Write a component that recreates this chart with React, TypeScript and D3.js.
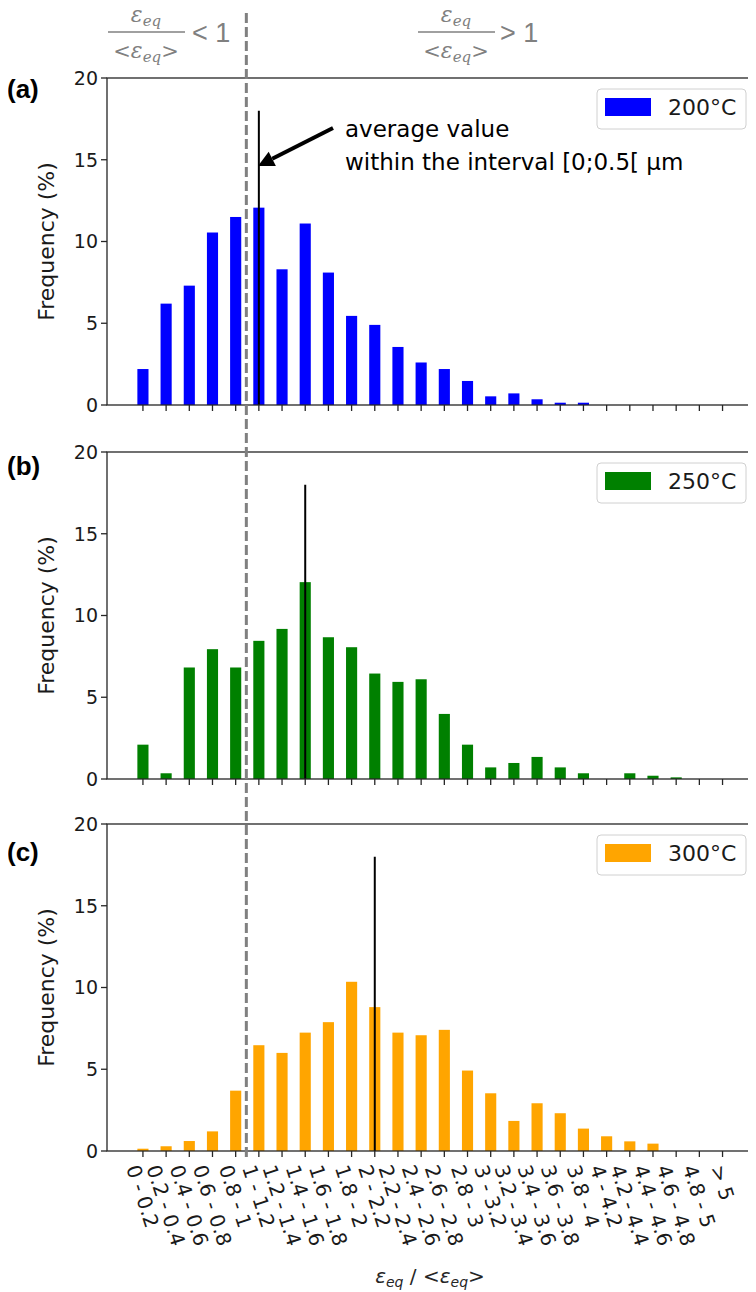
import React from 'react';
import * as d3 from 'd3';

const categories = [
  '0 - 0.2', '0.2 - 0.4', '0.4 - 0.6', '0.6 - 0.8', '0.8 - 1',
  '1 - 1.2', '1.2 - 1.4', '1.4 - 1.6', '1.6 - 1.8', '1.8 - 2',
  '2 - 2.2', '2.2 - 2.4', '2.4 - 2.6', '2.6 - 2.8', '2.8 - 3',
  '3 - 3.2', '3.2 - 3.4', '3.4 - 3.6', '3.6 - 3.8', '3.8 - 4',
  '4 - 4.2', '4.2 - 4.4', '4.4 - 4.6', '4.6 - 4.8', '4.8 - 5', '> 5',
];
const freq200 = [2.2, 6.2, 7.3, 10.55, 11.5, 12.07, 8.3, 11.1, 8.1, 5.45, 4.9, 3.55, 2.6, 2.2, 1.47, 0.53, 0.71, 0.35, 0.14, 0.14, 0, 0, 0, 0, 0, 0];
const freq250 = [2.1, 0.35, 6.82, 7.94, 6.82, 8.45, 9.18, 12.04, 8.67, 8.06, 6.45, 5.94, 6.1, 3.98, 2.1, 0.71, 0.98, 1.35, 0.71, 0.35, 0, 0.35, 0.2, 0.1, 0, 0];
const freq300 = [0.14, 0.29, 0.61, 1.2, 3.69, 6.47, 6.0, 7.24, 7.88, 10.35, 8.8, 7.24, 7.08, 7.41, 4.92, 3.53, 1.84, 2.92, 2.31, 1.37, 0.9, 0.59, 0.45, 0, 0, 0];
const seriesLabels = ['200°C', '250°C', '300°C'];
const seriesColors = ['#0000ff', '#008000', '#ffa500'];
const panelLetters = ['(a)', '(b)', '(c)'];
const averageIndex = [5, 7, 10];
const averageHeight = 18;
const thresholdIndex = 4.46;
const yTicks = [0, 5, 10, 15, 20];

const W = 756;
const H = 1292;
const plotLeft = 107;
const plotRight = 755;
const panelTops = [78, 452, 824];
const panelH = 327;

const SANS = 'DejaVu Sans, sans-serif';
const SERIF = 'DejaVu Serif, serif';

const xTickFont = 20;
const xTickAngle = 72;

function measure(text: string, font: string): number {
  try {
    const c = document.createElement('canvas');
    const ctx = c.getContext('2d');
    if (ctx) {
      ctx.font = font;
      return ctx.measureText(text).width;
    }
  } catch (e) {}
  return text.length * 0.6 * xTickFont;
}

export default function App() {
  const x = d3.scaleLinear().domain([-1.55, 26.4]).range([plotLeft, plotRight]);
  const barW = x(0.48) - x(0);
  const all = [freq200, freq250, freq300];

  const ang = (xTickAngle * Math.PI) / 180;
  const labelTop = 1162;

  return (
    <svg width={W} height={H} style={{ display: 'block', margin: '-8px 0 0 -8px' }} xmlns="http://www.w3.org/2000/svg">
      <rect x={0} y={0} width={W} height={H} fill="#fff" />
      {[{ cx: 146, x0: 108, x1: 185, sym: '< 1', sx: 192 }, { cx: 456, x0: 418, x1: 495, sym: '> 1', sx: 500 }].map((h, i) => (
        <g key={'hdr' + i} fill="#808080">
          <text x={h.cx} y={22} textAnchor="middle">
            <tspan fontFamily={SERIF} fontStyle="italic" fontSize={22}>ε</tspan>
            <tspan fontFamily={SERIF} fontStyle="italic" fontSize={15} dy={4}>eq</tspan>
          </text>
          <line x1={h.x0} x2={h.x1} y1={32} y2={32} stroke="#808080" strokeWidth={1.6} />
          <text x={h.cx} y={58} textAnchor="middle">
            <tspan fontFamily={SERIF} fontSize={21}>&lt;</tspan>
            <tspan fontFamily={SERIF} fontStyle="italic" fontSize={22}>ε</tspan>
            <tspan fontFamily={SERIF} fontStyle="italic" fontSize={15} dy={4}>eq</tspan>
            <tspan fontFamily={SERIF} fontSize={21} dy={-4}>&gt;</tspan>
          </text>
          <text x={h.sx} y={42} fontFamily="Liberation Sans, Arial, sans-serif" fontSize={27}>{h.sym}</text>
        </g>
      ))}

      {all.map((vals, p) => {
        const top = panelTops[p];
        const y = d3.scaleLinear().domain([0, 20]).range([top + panelH, top]);
        const base = y(0);
        return (
          <g key={'panel' + p}>
            {vals.map((v, i) => (
              v > 0 ? (
                <rect key={i} x={x(i) - barW / 2} y={y(v)} width={barW} height={base - y(v)} fill={seriesColors[p]} />
              ) : null
            ))}
            <line x1={x(averageIndex[p])} x2={x(averageIndex[p])} y1={y(0)} y2={y(averageHeight)} stroke="#000" strokeWidth={2} />
            <rect x={plotLeft} y={top} width={plotRight - plotLeft} height={panelH} fill="none" stroke="#262626" strokeWidth={1.3} />
            {yTicks.map((t) => (
              <g key={'yt' + t}>
                <line x1={plotLeft - 6} x2={plotLeft} y1={y(t)} y2={y(t)} stroke="#262626" strokeWidth={1.3} />
                <text x={plotLeft - 9} y={y(t)} dy="0.36em" textAnchor="end" fontFamily={SANS} fontSize={19} fill="#1a1a1a">{t}</text>
              </g>
            ))}
            {categories.map((c, i) => (
              <line key={'xt' + i} x1={x(i)} x2={x(i)} y1={base} y2={base + 6} stroke="#262626" strokeWidth={1.3} />
            ))}
            <text transform={`translate(46,${top + panelH / 2}) rotate(-90)`} textAnchor="middle" dy="0.36em" fontFamily={SANS} fontSize={22} fill="#1a1a1a">Frequency (%)</text>
            <text x={7} y={top + (p === 0 ? 20 : p === 1 ? 23 : 37)} fontFamily="Liberation Sans, Arial, sans-serif" fontWeight="bold" fontSize={26} fill="#000">{panelLetters[p]}</text>
            <g>
              <rect x={597} y={top + 11} width={149} height={40} rx={4} fill="#fff" fillOpacity={0.8} stroke="#d0d0d0" strokeWidth={1} />
              <rect x={605} y={top + 20} width={46} height={18} fill={seriesColors[p]} />
              <text x={668} y={top + 37} fontFamily={SANS} fontSize={22} fill="#1a1a1a">{seriesLabels[p]}</text>
            </g>
          </g>
        );
      })}

      {categories.map((c, i) => {
        const L = measure(c, `${xTickFont}px "DejaVu Sans"`);
        const lh = xTickFont * 1.16;
        const bh = L * Math.sin(ang) + lh * Math.cos(ang);
        const cx = x(i);
        const cy = labelTop + bh / 2;
        return (
          <text key={'xl' + i} x={cx} y={cy} textAnchor="middle" dy="0.36em" transform={`rotate(${xTickAngle},${cx},${cy})`} fontFamily={SANS} fontSize={xTickFont} fill="#1a1a1a">{c}</text>
        );
      })}

      <text x={430} y={1283} textAnchor="middle" fill="#262626" fontFamily={SANS} fontSize={20}>
        <tspan fontStyle="italic">ε</tspan>
        <tspan fontStyle="italic" fontSize={14} dy={4}>eq</tspan>
        <tspan dy={-4}> / &lt;</tspan>
        <tspan fontStyle="italic">ε</tspan>
        <tspan fontStyle="italic" fontSize={14} dy={4}>eq</tspan>
        <tspan dy={-4}>&gt;</tspan>
      </text>

      <text x={345} y={137} fontFamily={SANS} fontSize={23} fill="#000">average value</text>
      <text x={345} y={170} fontFamily={SANS} fontSize={23} fill="#000">within the interval [0;0.5[ µm</text>
      {(() => {
        const tx = 333, ty = 128, hx = 258, hy = 166;
        const dx = hx - tx, dy = hy - ty;
        const len = Math.hypot(dx, dy);
        const ux = dx / len, uy = dy / len;
        const hl = 16, hw = 8;
        const bx = hx - ux * hl, by = hy - uy * hl;
        const px = -uy, py = ux;
        return (
          <g>
            <line x1={tx} y1={ty} x2={bx} y2={by} stroke="#000" strokeWidth={4} />
            <polygon points={`${hx},${hy} ${bx + px * hw},${by + py * hw} ${bx - px * hw},${by - py * hw}`} fill="#000" />
          </g>
        );
      })()}

      <line x1={x(thresholdIndex)} x2={x(thresholdIndex)} y1={13} y2={1158} stroke="#808080" strokeWidth={3} strokeDasharray="10,4" />
    </svg>
  );
}
